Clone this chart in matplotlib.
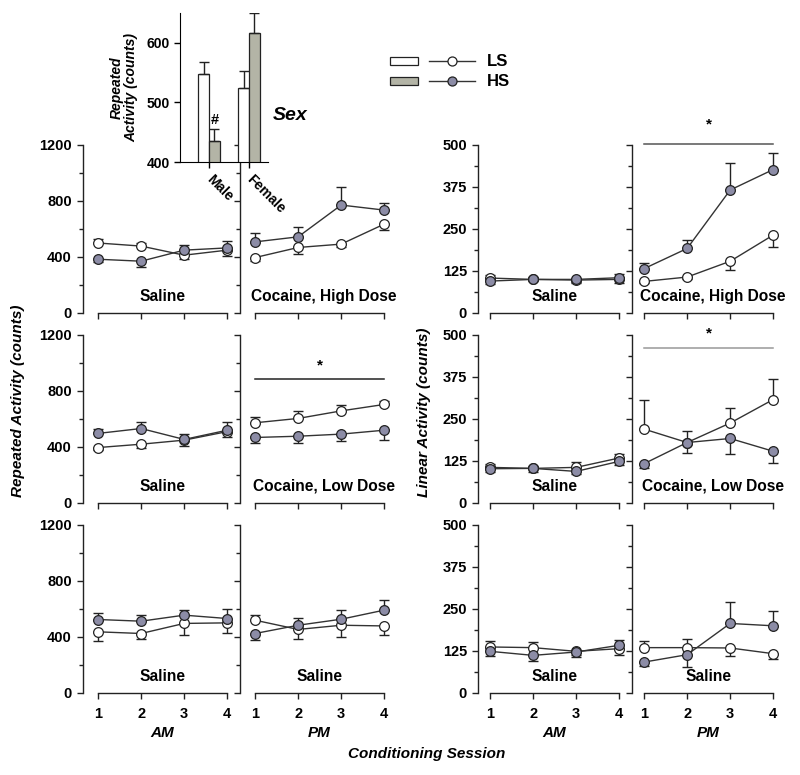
import matplotlib
matplotlib.use("Agg")
import matplotlib.pyplot as plt
import numpy as np
from matplotlib.patches import Rectangle
from matplotlib.lines import Line2D

plt.rcParams['font.family'] = ['Liberation Sans', 'DejaVu Sans']
plt.rcParams['font.weight'] = 'bold'

# ---------------- data ----------------
sessions = [1, 2, 3, 4]
groups = ["LS", "HS"]

# Repeated activity (counts): rows = Saline/High, Saline/Low, Saline/Saline
rep_ls = [
    [[500, 478, 413, 449], [396, 468, 492, 635]],
    [[396, 420, 449, 510], [573, 604, 658, 704]],
    [[437, 425, 497, 501], [520, 454, 484, 479]],
]
rep_ls_err = [
    [[32, 25, 25, 40], [25, 50, 22, 45]],
    [[20, 25, 45, 40], [42, 50, 42, 28]],
    [[65, 40, 80, 75], [40, 65, 85, 62]],
]
rep_ls_dir = [
    [[1, 1, -1, -1], [-1, -1, -1, -1]],
    [[-1, -1, -1, -1], [1, 1, 1, 1]],
    [[-1, -1, -1, -1], [1, -1, -1, -1]],
]
rep_hs = [
    [[384, 370, 449, 465], [508, 544, 771, 735]],
    [[497, 532, 454, 520], [468, 477, 492, 520]],
    [[525, 513, 556, 532], [425, 484, 527, 592]],
]
rep_hs_err = [
    [[20, 45, 38, 48], [60, 72, 130, 48]],
    [[30, 45, 38, 60], [42, 50, 50, 72]],
    [[50, 47, 36, 68], [45, 52, 68, 75]],
]
rep_hs_dir = [
    [[-1, -1, 1, 1], [1, 1, 1, 1]],
    [[1, 1, 1, 1], [-1, -1, -1, -1]],
    [[1, 1, 1, 1], [-1, 1, 1, 1]],
]

# Linear activity (counts)
lin_ls = [
    [[104, 100, 98, 100], [94, 107, 154, 232]],
    [[106, 103, 106, 134], [220, 180, 238, 308]],
    [[137, 135, 124, 132], [135, 135, 134, 117]],
]
lin_ls_err = [
    [[10, 8, 8, 10], [6, 6, 27, 35]],
    [[10, 8, 15, 12], [87, 35, 44, 60]],
    [[18, 18, 10, 18], [20, 27, 24, 15]],
]
lin_ls_dir = [
    [[1, 1, -1, -1], [-1, -1, -1, -1]],
    [[1, 1, 1, 1], [1, 1, 1, 1]],
    [[1, 1, -1, -1], [1, 1, -1, -1]],
]
lin_hs = [
    [[95, 100, 100, 105], [132, 192, 366, 427]],
    [[102, 103, 94, 124], [117, 180, 192, 154]],
    [[124, 112, 122, 142], [92, 114, 207, 200]],
]
lin_hs_err = [
    [[8, 6, 8, 12], [16, 26, 81, 50]],
    [[10, 12, 8, 12], [12, 30, 45, 34]],
    [[14, 17, 15, 16], [12, 36, 63, 43]],
]
lin_hs_dir = [
    [[-1, -1, -1, 1], [1, 1, 1, 1]],
    [[-1, -1, -1, -1], [-1, -1, -1, -1]],
    [[-1, -1, -1, 1], [-1, -1, 1, 1]],
]

row_titles = [["Saline", "Cocaine, High Dose"],
              ["Saline", "Cocaine, Low Dose"],
              ["Saline", "Saline"]]
period_labels = ["AM", "PM"]

# significance bars: (measure, row, col, line value, star value, colour)
sig_marks = [("rep", 1, 1, 885, 985, "#222222"),
             ("lin", 0, 1, 503, 560, "#555555"),
             ("lin", 1, 1, 462, 506, "#999999")]

# inset: sex effect
sex_cats = ["Male", "Female"]
sex_ls = [548, 524]
sex_ls_err = [19, 29]
sex_hs = [435, 616]
sex_hs_err = [21, 34]

# ---------------- style ----------------
WHITE = "white"
HS_FILL = "#8c8ca6"
BAR_GRAY = "#b3b4a6"
LINE_C = "#333333"

W, H = 800, 775
fig = plt.figure(figsize=(8, 7.75), dpi=100)


def ax_px(x0, y_top, w, h):
    return fig.add_axes([x0 / W, 1 - (y_top + h) / H, w / W, h / H])


row_tops = [145, 335, 525]
row_h = 168
rep_x = [83, 240]
lin_x = [478, 632]
pw = 155


def style_panel(ax, ymax, major, minor, show_ylabels, show_xlabels):
    ax.set_ylim(0, ymax)
    for s in ["top", "right"]:
        ax.spines[s].set_visible(False)
    ax.spines["bottom"].set_bounds(1, 4)
    ax.spines["left"].set_bounds(0, ymax)
    for s in ["left", "bottom"]:
        ax.spines[s].set_linewidth(1.0)
        ax.spines[s].set_color("#222222")
    ax.set_yticks(major)
    ax.set_yticks(minor, minor=True)
    ax.set_xticks(sessions)
    ax.tick_params(axis="both", which="major", direction="out", length=4,
                   width=1, labelsize=10.5, pad=4, color="#222222")
    ax.tick_params(axis="y", which="minor", direction="out", length=3, width=1,
                   color="#222222")
    ax.tick_params(axis="x", pad=6)
    if not show_ylabels:
        ax.set_yticklabels([])
    if not show_xlabels:
        ax.set_xticklabels([])
    for lab in ax.get_xticklabels() + ax.get_yticklabels():
        lab.set_fontweight("bold")
    ax.patch.set_alpha(0)


def draw_series(ax, y, err, dirs, face):
    y = np.array(y, float)
    err = np.array(err, float)
    dirs = np.array(dirs)
    lower = np.where(dirs < 0, err, 0)
    upper = np.where(dirs > 0, err, 0)
    ax.errorbar(sessions, y, yerr=[lower, upper], fmt="none", ecolor="#222222",
                elinewidth=1, capsize=3.5, capthick=1, zorder=2)
    ax.plot(sessions, y, "-", color=LINE_C, lw=1, zorder=3)
    ax.plot(sessions, y, "o", ms=7, mfc=face, mec="#222222", mew=0.9, zorder=4)


measures = {
    "rep": dict(x=rep_x, ymax=1200, major=[0, 400, 800, 1200],
                minor=[200, 600, 1000], xlim=(0.65, 4.25),
                ls=rep_ls, lse=rep_ls_err, lsd=rep_ls_dir,
                hs=rep_hs, hse=rep_hs_err, hsd=rep_hs_dir),
    "lin": dict(x=lin_x, ymax=500, major=[0, 125, 250, 375, 500],
                minor=[62.5, 187.5, 312.5, 437.5], xlim=(0.72, 4.32),
                ls=lin_ls, lse=lin_ls_err, lsd=lin_ls_dir,
                hs=lin_hs, hse=lin_hs_err, hsd=lin_hs_dir),
}

axes = {}
for key, m in measures.items():
    for r in range(3):
        for c in range(2):
            ax = ax_px(m["x"][c], row_tops[r], pw, row_h)
            style_panel(ax, m["ymax"], m["major"], m["minor"], c == 0, r == 2)
            ax.set_xlim(*m["xlim"])
            draw_series(ax, m["ls"][r][c], m["lse"][r][c], m["lsd"][r][c], WHITE)
            draw_series(ax, m["hs"][r][c], m["hse"][r][c], m["hsd"][r][c], HS_FILL)
            tx = 2.5 if (c == 0 or r == 2) else 2.6
            ax.text(tx, 0.1, row_titles[r][c], transform=ax.get_xaxis_transform(),
                    ha="center", va="center", fontsize=11.2, fontweight="bold")
            if r == 2:
                ax.text(2.5, -0.24, period_labels[c], transform=ax.get_xaxis_transform(),
                        ha="center", va="center", fontsize=11, fontweight="bold",
                        fontstyle="italic")
            axes[(key, r, c)] = ax

for key, r, c, yl, ys, col in sig_marks:
    ax = axes[(key, r, c)]
    ax.plot([1, 4], [yl, yl], color=col, lw=1.1, clip_on=False, zorder=1)
    ax.text(2.5, ys, "*", ha="center", va="center", fontsize=11,
            fontweight="bold", clip_on=False)

fig.text(18 / W, 1 - 401 / H, "Repeated Activity (counts)", rotation=90,
         ha="center", va="center", fontsize=11, fontweight="bold",
         fontstyle="italic")
fig.text(424 / W, 1 - 412 / H, "Linear Activity (counts)", rotation=90,
         ha="center", va="center", fontsize=11, fontweight="bold",
         fontstyle="italic")
fig.text(427 / W, 1 - 754 / H, "Conditioning Session", ha="center",
         va="center", fontsize=11, fontweight="bold", fontstyle="italic")

# ---------------- inset ----------------
ins = ax_px(180, 13, 88, 149)
xpos = np.arange(len(sex_cats))
bw = 0.27
ins.bar(xpos - bw / 2, sex_ls, bw, color=WHITE, edgecolor="#222222",
        lw=0.9, zorder=2)
ins.bar(xpos + bw / 2, sex_hs, bw, color=BAR_GRAY, edgecolor="#222222",
        lw=0.9, zorder=2)
ins.errorbar(xpos - bw / 2, sex_ls, yerr=[[0, 0], sex_ls_err], fmt="none",
             ecolor="#222222", elinewidth=1, capsize=3.5, capthick=1, zorder=3)
ins.errorbar(xpos + bw / 2, sex_hs, yerr=[[0, 0], sex_hs_err], fmt="none",
             ecolor="#222222", elinewidth=1, capsize=3.5, capthick=1, zorder=3)
ins.set_ylim(400, 650)
ins.set_xlim(-0.725, 1.475)
for s in ["top", "right"]:
    ins.spines[s].set_visible(False)
ins.spines["left"].set_bounds(400, 650)
ins.set_yticks([400, 500, 600])
ins.set_xticks(xpos)
ins.set_xticklabels(sex_cats, rotation=-45, ha="left", va="center",
                    rotation_mode="anchor", fontsize=10, fontweight="bold")
ins.tick_params(axis="both", direction="out", length=4, width=1, labelsize=10)
ins.tick_params(axis="x", pad=7)
for lab in ins.get_yticklabels():
    lab.set_fontweight("bold")
ins.text(xpos[0] + bw / 2, sex_hs[0] + sex_hs_err[0] + 14, "#", ha="center",
         va="center", fontsize=10.5, fontweight="bold")
ins.set_ylabel("Repeated\nActivity (counts)", fontsize=10, fontweight="bold",
               fontstyle="italic", labelpad=6, linespacing=1.0)
ins.patch.set_alpha(0)
fig.text(290 / W, 1 - 115 / H, "Sex", ha="center", va="center", fontsize=14,
         fontweight="bold", fontstyle="italic")

# ---------------- legend ----------------
leg = fig.add_axes([0, 0, 1, 1])
leg.set_xlim(0, W)
leg.set_ylim(H, 0)
leg.axis("off")
for i, (g, face, bar_c) in enumerate(zip(groups, [WHITE, HS_FILL], [WHITE, BAR_GRAY])):
    yc = 61 + i * 20
    leg.add_patch(Rectangle((390, yc - 4), 28, 8, facecolor=bar_c,
                            edgecolor="#222222", lw=0.9))
    leg.add_line(Line2D([429, 475], [yc, yc], color=LINE_C, lw=1))
    leg.plot([452], [yc], "o", ms=6.5, mfc=face, mec="#222222", mew=0.9)
    leg.text(487, yc, g, ha="left", va="center", fontsize=12, fontweight="bold")

fig.savefig("out.png", dpi=100, facecolor="white")
